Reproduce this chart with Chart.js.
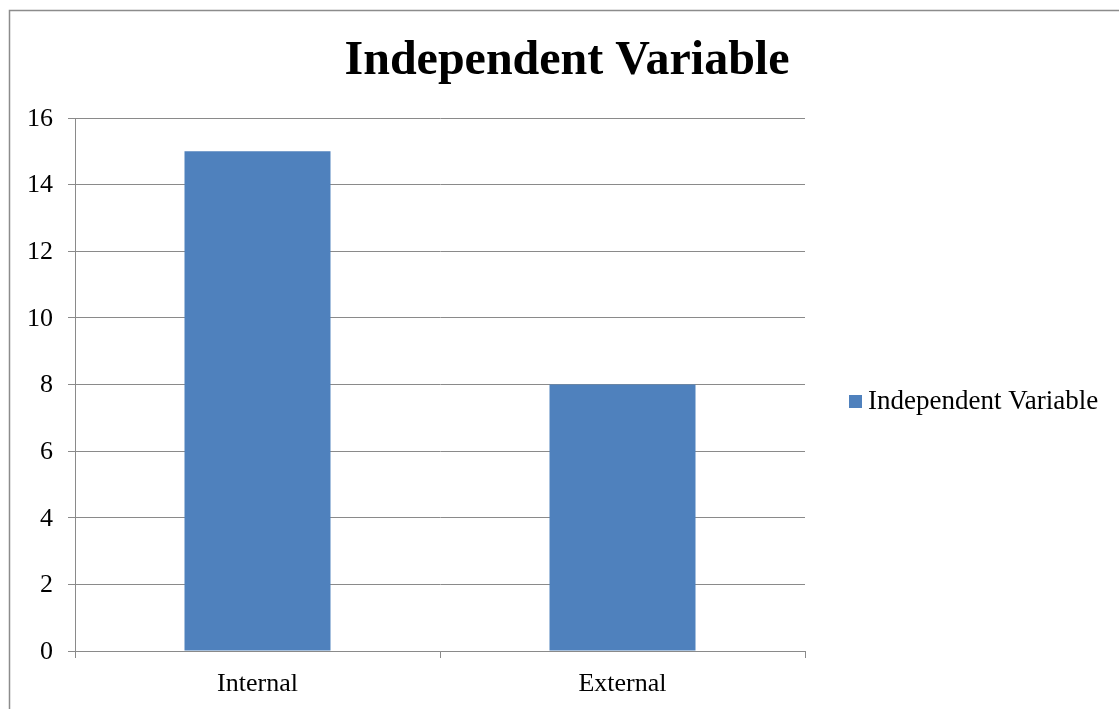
<!DOCTYPE html>
<html>
<head>
<meta charset="utf-8">
<title>Independent Variable</title>
<script src="https://cdn.jsdelivr.net/npm/chart.js@4/dist/chart.umd.min.js"></script>
<style>
  html, body { margin: 0; padding: 0; background: #ffffff; }
  canvas { display: block; }
</style>
</head>
<body>
<canvas id="chart" width="1119" height="709"></canvas>
<script>
// Chart data
const categories = ['Internal', 'External'];
const seriesName = 'Independent Variable';
const seriesValues = [15, 8];
const yTicks = [0, 2, 4, 6, 8, 10, 12, 14, 16];

const SERIF = '"Liberation Serif", "Times New Roman", Times, serif';
const BAR_COLOR = '#4F81BD';
const GRID_COLOR = '#8a8a8a';

// Outer frame and white background
const framePlugin = {
  id: 'frame',
  beforeDraw(chart) {
    const ctx = chart.ctx;
    ctx.save();
    ctx.fillStyle = '#ffffff';
    ctx.fillRect(0, 0, chart.width, chart.height);
    ctx.strokeStyle = '#8c8c8c';
    ctx.lineWidth = 1.5;
    ctx.strokeRect(9.5, 10.5, chart.width + 50, chart.height + 50);
    ctx.restore();
  }
};

// Legend entry drawn on the right side, beside the plot
const sideLegendPlugin = {
  id: 'sideLegend',
  afterDraw(chart) {
    const ctx = chart.ctx;
    const ds = chart.data.datasets[0];
    const box = 13;
    const x = chart.chartArea.right + 44;
    const cy = 401.5;
    ctx.save();
    ctx.fillStyle = ds.backgroundColor;
    ctx.fillRect(x, cy - box / 2, box, box);
    ctx.fillStyle = '#000000';
    ctx.font = '27px ' + SERIF;
    ctx.textBaseline = 'middle';
    ctx.textAlign = 'left';
    ctx.fillText(ds.label, x + box + 6, cy);
    ctx.restore();
  }
};

new Chart(document.getElementById('chart'), {
  type: 'bar',
  data: {
    labels: categories,
    datasets: [{
      label: seriesName,
      data: seriesValues,
      backgroundColor: BAR_COLOR,
      borderWidth: 0,
      barPercentage: 0.4,
      categoryPercentage: 1.0
    }]
  },
  options: {
    responsive: false,
    animation: false,
    devicePixelRatio: 1,
    layout: { padding: { left: 15, right: 0, top: 0, bottom: 0 } },
    plugins: {
      legend: { display: false },
      tooltip: { enabled: false },
      title: {
        display: true,
        text: seriesName,
        color: '#000000',
        font: { family: SERIF, size: 48, weight: 'bold', lineHeight: 1.2 },
        padding: { top: 33, bottom: 27.4 }
      }
    },
    scales: {
      x: {
        offset: true,
        grid: {
          offset: true,
          drawOnChartArea: false,
          drawTicks: true,
          tickLength: 7,
          color: GRID_COLOR,
          lineWidth: 1
        },
        border: { display: true, color: GRID_COLOR, width: 1 },
        ticks: {
          color: '#000000',
          font: { family: SERIF, size: 26 },
          padding: 11,
          maxRotation: 0
        },
        afterFit(scale) { scale.height = 58; }
      },
      y: {
        min: 0,
        max: 16,
        afterBuildTicks(scale) { scale.ticks = yTicks.map(v => ({ value: v })); },
        grid: {
          color: GRID_COLOR,
          lineWidth: 1,
          drawTicks: true,
          tickLength: 7,
          tickColor: GRID_COLOR
        },
        border: { display: true, color: GRID_COLOR, width: 1 },
        ticks: {
          color: '#000000',
          font: { family: SERIF, size: 26 },
          padding: 15,
          labelOffset: 1
        },
        afterFit(scale) { scale.width = 60; }
      },
      // Empty right-hand band that holds the legend
      legendBand: {
        type: 'linear',
        position: 'right',
        display: true,
        grid: { display: false, drawTicks: false },
        border: { display: false },
        ticks: { display: false },
        afterFit(scale) { scale.width = 314; }
      }
    }
  },
  plugins: [framePlugin, sideLegendPlugin]
});
</script>
</body>
</html>
